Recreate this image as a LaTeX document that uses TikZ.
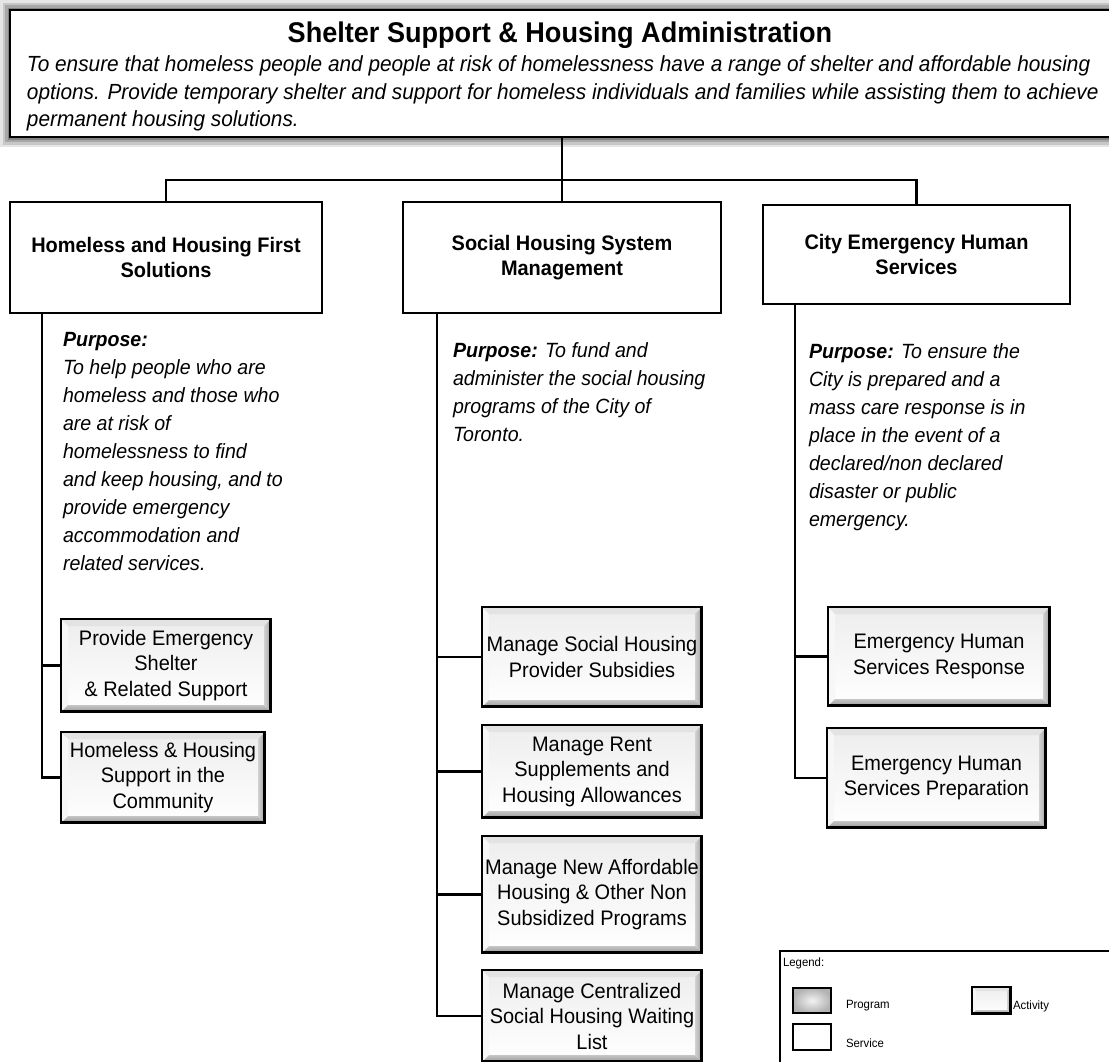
\documentclass[tikz,border=0pt]{standalone}
\usepackage{fontspec}
\setmainfont{Liberation Sans}
\newfontfamily\arf[FakeStretch=0.95]{Liberation Sans}
\usetikzlibrary{backgrounds}

\tikzset{
  every node/.style={inner sep=0pt, outer sep=0pt},
  conn/.style={line width=2.4pt, black},
  svc/.style={draw, line width=2.4pt, fill=white, align=center,
    font=\arf\bfseries\fontsize{21}{24.5}\selectfont},
  bevel/.style={path picture={
    \coordinate (bvnw) at (path picture bounding box.north west);
    \coordinate (bvne) at (path picture bounding box.north east);
    \coordinate (bvse) at (path picture bounding box.south east);
    \coordinate (bvsw) at (path picture bounding box.south west);
    \fill[gray!22] (bvnw) -- (bvne) -- ([shift={(-#1,-#1)}]bvne) -- ([shift={(#1,-#1)}]bvnw) -- cycle;
    \fill[gray!6] (bvnw) -- (bvsw) -- ([shift={(#1,#1)}]bvsw) -- ([shift={(#1,-#1)}]bvnw) -- cycle;
    \shade[left color=gray!35, right color=gray!75] (bvne) -- (bvse) -- ([shift={(-#1,#1)}]bvse) -- ([shift={(-#1,-#1)}]bvne) -- cycle;
    \shade[top color=gray!45, bottom color=gray!80] (bvsw) -- (bvse) -- ([shift={(-#1,#1)}]bvse) -- ([shift={(#1,#1)}]bvsw) -- cycle;
    \draw[line width=3.5pt] (bvsw) -- (bvse) -- (bvne);
  }},
  act/.style={draw, line width=1.3pt, top color=gray!14, bottom color=white,
    align=center, font=\arf\fontsize{21}{25.5}\selectfont, bevel=7pt},
  purp/.style={anchor=north west, align=left,
    font=\arf\itshape\fontsize{20.6}{28}\selectfont},
  lgtext/.style={anchor=west, font=\arf\fontsize{12}{14}\selectfont},
}

\begin{document}
\begin{tikzpicture}[x=1pt, y=-1pt]
\useasboundingbox (0,0) rectangle (1109,1061);

% top box
\node[draw, line width=2.4pt, fill=white, anchor=north west,
      minimum width=1108pt, minimum height=127pt] (top) at (10,10) {};
\node[anchor=base, font=\arf\bfseries\fontsize{28.5}{32}\selectfont] (title) at (560,42)
  {Shelter Support \& Housing Administration};
\node[anchor=north west, align=left, font=\arf\itshape\fontsize{21.9}{27.5}\selectfont] (desc) at (27,56)
  {To ensure that homeless people and people at risk of homelessness have a range of shelter and affordable housing\\
   options. Provide temporary shelter and support for homeless individuals and families while assisting them to achieve\\
   permanent housing solutions.};

% service boxes
\node[svc, minimum width=312pt, minimum height=111pt] (h1) at (166,257.5)
  {Homeless and Housing First\\Solutions};
\node[svc, minimum width=318pt, minimum height=111pt] (h2) at (562,257.5)
  {Social Housing System\\Management};
\node[svc, minimum width=307pt, minimum height=99pt] (h3) at (916.5,254.5)
  {City Emergency Human\\Services};

% connectors from top
\coordinate (bus) at (562,180);
\draw[conn] (h2.north |- top.south) -- (h2.north);
\draw[conn] (h1.north) |- (bus) -| (h3.north);

% purposes
\node[purp] (p1) at (63,332) {\textbf{Purpose:}\\To help people who are\\homeless and those who\\are at risk of\\homelessness to find\\and keep housing, and to\\provide emergency\\accommodation and\\related services.};
\node[purp] (p2) at (453,343) {\textbf{Purpose:} To fund and\\administer the social housing\\programs of the City of\\Toronto.};
\node[purp] (p3) at (809,344) {\textbf{Purpose:} To ensure the\\City is prepared and a\\mass care response is in\\place in the event of a\\declared/non declared\\disaster or public\\emergency.};

% activities
\node[act, minimum width=210pt, minimum height=93pt] (a11) at (166,665.5) {Provide Emergency\\Shelter\\\& Related Support};
\node[act, minimum width=204pt, minimum height=91pt] (a12) at (163,777.5) {Homeless \& Housing\\Support in the\\Community};

\node[act, minimum width=220pt, minimum height=100pt] (a21) at (592,657) {Manage Social Housing\\Provider Subsidies};
\node[act, minimum width=220pt, minimum height=93pt] (a22) at (592,771.5) {Manage Rent\\Supplements and\\Housing Allowances};
\node[act, minimum width=220pt, minimum height=117pt] (a23) at (592,894.5) {Manage New Affordable\\Housing \& Other Non\\Subsidized Programs};
\node[act, minimum width=220pt, minimum height=92pt] (a24) at (592,1016) {Manage Centralized\\Social Housing Waiting\\List};

\node[act, minimum width=222pt, minimum height=99pt] (a31) at (939,656.5) {Emergency Human\\Services Response};
\node[act, minimum width=219pt, minimum height=100pt] (a32) at (936.5,778) {Emergency Human\\Services Preparation};

% trunks
\coordinate (t1) at (42,313);
\coordinate (t2) at (437,313);
\coordinate (t3) at (795,304);
\draw[conn] (t1) |- (a11.west);
\draw[conn] (t1) |- (a12.west);
\draw[conn] (t2) |- (a21.west);
\draw[conn] (t2) |- (a22.west);
\draw[conn] (t2) |- (a23.west);
\draw[conn] (t2) |- (a24.west);
\draw[conn] (t3) |- (a31.west);
\draw[conn] (t3) |- (a32.west);

% legend
\node[draw, line width=1.8pt, fill=white, anchor=north west, minimum width=340pt, minimum height=120pt] (legend) at (780,951) {};
\node[lgtext] (lgl) at (783,963) {Legend:};
\node[draw, line width=1.5pt, inner color=gray!10, outer color=gray!60, minimum width=38pt, minimum height=25pt] (lgp) at (812,1000.5) {};
\node[lgtext] (lgpt) at (846,1006) {Program};
\node[act, bevel=4pt, minimum width=39pt, minimum height=27pt] (lga) at (991.5,1000.5) {};
\node[lgtext] (lgat) at (1013,1006) {Activity};
\node[draw, line width=1.5pt, fill=white, minimum width=38pt, minimum height=26pt] (lgs) at (812,1037) {};
\node[lgtext] (lgst) at (846,1043) {Service};

% background and glows
\begin{scope}[on background layer]
  \fill[white] (0,0) rectangle (1109,1061);
  \foreach \w/\o in {20/0.10,15/0.13,10/0.16,5/0.22}{
    \draw[black, opacity=\o, line width=\w pt] (top.north west) rectangle (top.south east);
  }
\end{scope}
\begin{scope}[on background layer]
  \foreach \w/\o in {14/0.14,9/0.18,5/0.25}{
    \draw[black, opacity=\o, line width=\w pt] (lgp.north west) rectangle (lgp.south east);
  }
\end{scope}
\end{tikzpicture}
\end{document}
